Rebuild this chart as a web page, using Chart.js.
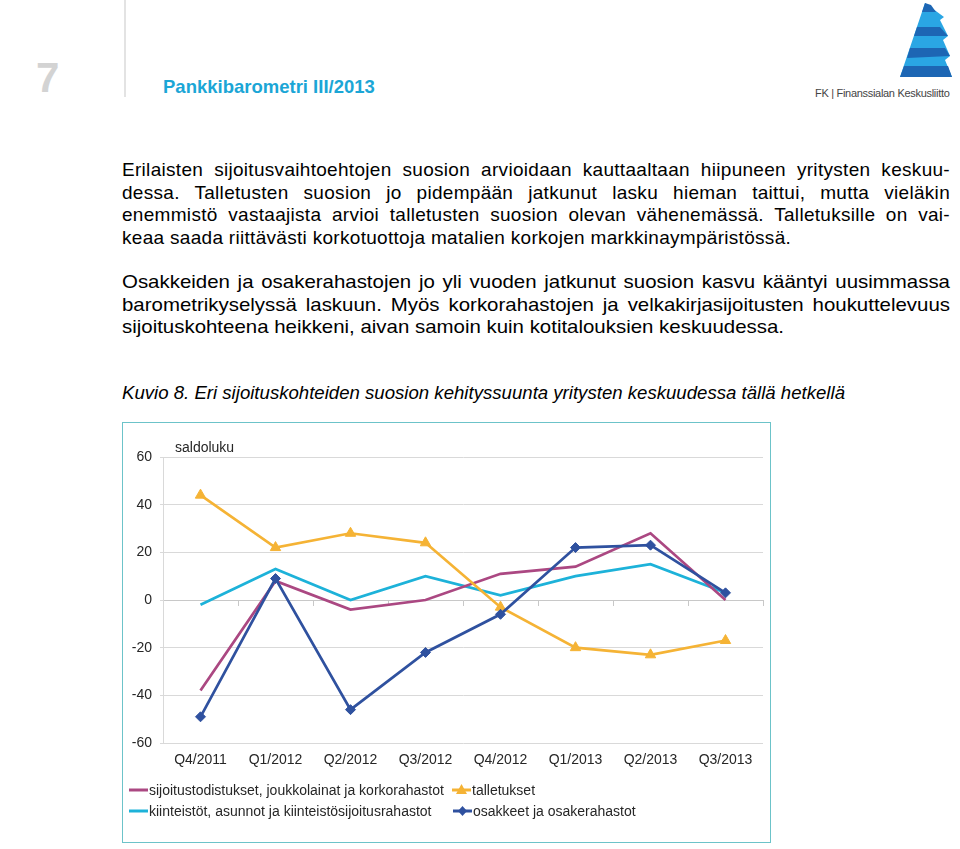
<!DOCTYPE html>
<html>
<head>
<meta charset="utf-8">
<script src="https://cdn.jsdelivr.net/npm/chart.js@4.4.0/dist/chart.umd.min.js"></script>
<style>
  html, body { margin:0; padding:0; background:#fff; }
  body { width:960px; height:849px; position:relative; overflow:hidden; font-family:"Liberation Sans", Arial, sans-serif; color:#000; }
  .abs { position:absolute; white-space:nowrap; }
  #pnum { left:36px; top:56px; font-size:42px; font-weight:bold; color:#d3d3d3; line-height:44px; }
  #vline { left:124px; top:0; width:2px; height:97px; background:#e3e3e3; }
  #title { left:163px; top:76px; font-size:18.5px; font-weight:bold; color:#1ba6d6; line-height:22px; }
  #fk { left:815px; top:86px; font-size:11px; color:#444; line-height:14px; letter-spacing:-0.3px; }
  .txt { position:absolute; left:122px; width:828px; font-size:19px; line-height:22.7px; }
  .ln { display:block; text-align:justify; text-align-last:justify; white-space:nowrap; }
  .ln.last { text-align-last:left; }
  #p1 { top:159px; letter-spacing:0.3px; }
  #p2 { top:271px; }
  #p2in { transform-origin:0 0; }
  #kuvio { left:122px; top:382px; font-size:19px; font-style:italic; line-height:22px; transform-origin:0 0; }
  #box { position:absolute; left:122px; top:422px; width:649px; height:421px; border:1.5px solid #6cc3c9; box-sizing:border-box; }
  #chartwrap { position:absolute; left:123px; top:423px; width:647px; height:419px; }
  #saldo { left:175px; top:439px; font-size:14px; color:#262626; }
  .leg { position:absolute; font-size:14px; color:#262626; line-height:16px; white-space:nowrap; }
  .leg svg { vertical-align:middle; margin-right:1px; position:relative; top:-1px; }
</style>
</head>
<body>
<div id="pnum" class="abs">7</div>
<div id="vline" class="abs"></div>
<div id="title" class="abs">Pankkibarometri III/2013</div>
<svg class="abs" style="left:895px;top:0px" width="62" height="80" viewBox="0 0 62 80">
  <polygon points="30,3 5,77 57,77 50,60 55,56 48,40 53,36 45,20 49,17" fill="#2aa6e4"/>
  <polygon points="30,3 27,12 41,12 36,5" fill="#1d66b4"/>
  <polygon points="22,27 19,36 53,36 45,27" fill="#1d66b4"/>
  <polygon points="15,48 12,58 55,56 50,48" fill="#1d66b4"/>
  <polygon points="9,66 5,77 57,77 53,66" fill="#1d66b4"/>
</svg>
<div id="fk" class="abs">FK | Finanssialan Keskusliitto</div>

<div id="p1" class="txt">
  <span class="ln">Erilaisten sijoitusvaihtoehtojen suosion arvioidaan kauttaaltaan hiipuneen yritysten keskuu-</span>
  <span class="ln">dessa. Talletusten suosion jo pidempään jatkunut lasku hieman taittui, mutta vieläkin</span>
  <span class="ln">enemmistö vastaajista arvioi talletusten suosion olevan vähenemässä. Talletuksille on vai-</span>
  <span class="ln last">keaa saada riittävästi korkotuottoja matalien korkojen markkinaympäristössä.</span>
</div>
<div id="p2" class="txt"><div id="p2in">
  <span class="ln">Osakkeiden ja osakerahastojen jo yli vuoden jatkunut suosion kasvu kääntyi uusimmassa</span>
  <span class="ln">barometrikyselyssä laskuun. Myös korkorahastojen ja velkakirjasijoitusten houkuttelevuus</span>
  <span class="ln last"><span id="p2last">sijoituskohteena heikkeni, aivan samoin kuin kotitalouksien keskuudessa.</span></span>
</div></div>
<div id="kuvio" class="abs">Kuvio 8. Eri sijoituskohteiden suosion kehityssuunta yritysten keskuudessa tällä hetkellä</div>

<div id="box"></div>
<div id="chartwrap"><canvas id="c"></canvas></div>
<div id="saldo" class="abs">saldoluku</div>

<div class="leg" style="left:129px;top:782px;"><svg width="19" height="10"><line x1="0" y1="5" x2="19" y2="5" stroke="#ab4882" stroke-width="3"/></svg>sijoitustodistukset, joukkolainat ja korkorahastot</div>
<div class="leg" style="left:452px;top:782px;"><svg width="19" height="12"><line x1="0" y1="6" x2="19" y2="6" stroke="#f5b335" stroke-width="3"/><polygon points="9.5,0 15,10 4,10" fill="#f5b335"/></svg>talletukset</div>
<div class="leg" style="left:129px;top:803px;"><svg width="19" height="10"><line x1="0" y1="5" x2="19" y2="5" stroke="#1db2d9" stroke-width="3"/></svg>kiinteistöt, asunnot ja kiinteistösijoitusrahastot</div>
<div class="leg" style="left:453px;top:803px;"><svg width="19" height="12"><line x1="0" y1="6" x2="19" y2="6" stroke="#2f519f" stroke-width="3"/><polygon points="9.5,1 14,6 9.5,11 5,6" fill="#2f519f"/></svg>osakkeet ja osakerahastot</div>

<script>
const categories = ["Q4/2011","Q1/2012","Q2/2012","Q3/2012","Q4/2012","Q1/2013","Q2/2013","Q3/2013"];
const sijoitustodistukset = [-38, 8, -4, 0, 11, 14, 28, 0];
const talletukset = [44, 22, 28, 24, -3, -20, -23, -17];
const kiinteistot = [-2, 13, 0, 10, 2, 10, 15, 3];
const osakkeet = [-49, 9, -46, -22, -6, 22, 23, 3];
const yTicks = [-60, -40, -20, 0, 20, 40, 60];

// text fitting to the reference's typesetting
(function fitText() {
  const last = document.getElementById('p2last');
  const w = last.getBoundingClientRect().width;
  const s = 662 / w;
  const inner = document.getElementById('p2in');
  inner.style.width = (828 / s) + 'px';
  inner.style.transform = 'scaleX(' + s + ')';
  const k = document.getElementById('kuvio');
  const kw = k.getBoundingClientRect().width;
  k.style.transform = 'scaleX(' + (723 / kw) + ')';
})();

const fontFam = '"Liberation Sans", Arial, sans-serif';

new Chart(document.getElementById('c'), {
  type: 'line',
  data: {
    labels: categories,
    datasets: [
      { label: 'sijoitustodistukset, joukkolainat ja korkorahastot', data: sijoitustodistukset, borderColor: '#ab4882', backgroundColor: '#ab4882', borderWidth: 2.7, pointRadius: 0, order: 2, xAxisID: 'x', yAxisID: 'y' },
      { label: 'talletukset', data: talletukset, borderColor: '#f5b335', backgroundColor: '#f5b335', borderWidth: 2.7, pointStyle: 'triangle', pointRadius: 6, pointBorderWidth: 1, order: 1, xAxisID: 'x', yAxisID: 'y' },
      { label: 'kiinteistöt, asunnot ja kiinteistösijoitusrahastot', data: kiinteistot, borderColor: '#1db2d9', backgroundColor: '#1db2d9', borderWidth: 2.7, pointRadius: 0, order: 3, xAxisID: 'x', yAxisID: 'y' },
      { label: 'osakkeet ja osakerahastot', data: osakkeet, borderColor: '#2f519f', backgroundColor: '#2f519f', borderWidth: 2.7, pointStyle: 'rectRot', pointRadius: 5, pointBorderWidth: 1, order: 0, xAxisID: 'x', yAxisID: 'y' }
    ]
  },
  options: {
    responsive: true,
    maintainAspectRatio: false,
    animation: false,
    layout: { padding: { left: 0, top: 34, right: 4, bottom: 0 } },
    plugins: { legend: { display: false }, tooltip: { enabled: false } },
    elements: { line: { tension: 0 } },
    scales: {
      x: {
        type: 'category',
        position: 'bottom',
        offset: true,
        grid: { display: false, drawTicks: false },
        border: { display: false },
        ticks: { color: '#262626', font: { family: fontFam, size: 14 }, padding: 9, maxRotation: 0, autoSkip: false },
        afterFit: (s) => { s.height = 99; }
      },
      x2: {
        type: 'category',
        labels: categories,
        position: { y: 0 },
        offset: true,
        grid: { offset: true, drawOnChartArea: false, drawTicks: true, tickLength: 5, color: '#c8c8c8', lineWidth: 1 },
        border: { display: true, color: '#c8c8c8', width: 1 },
        ticks: { display: false }
      },
      y: {
        min: -60, max: 60,
        afterBuildTicks: (s) => { s.ticks = yTicks.map(v => ({ value: v })); },
        grid: { color: '#d9d9d9', lineWidth: 1, drawTicks: true, tickLength: 3 },
        border: { display: true, color: '#d9d9d9' },
        ticks: { color: '#262626', font: { family: fontFam, size: 14 }, padding: 8 },
        afterFit: (s) => { s.width = 40; }
      }
    }
  }
});
</script>
</body>
</html>
